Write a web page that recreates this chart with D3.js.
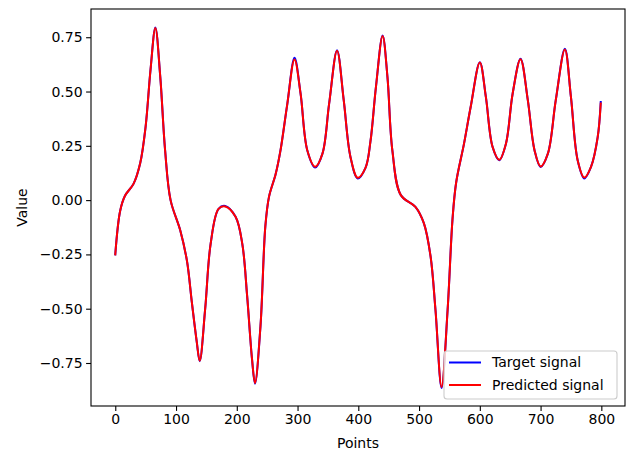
<!DOCTYPE html>
<html>
<head>
<meta charset="utf-8">
<script src="https://cdn.jsdelivr.net/npm/d3@7"></script>
<style>
  body { margin: 0; background: #fff; }
  text { font-family: "DejaVu Sans", sans-serif; }
</style>
</head>
<body>
<script>
// sample positions (point index)
var pointIndex = [0, 8, 16, 30, 41, 50, 58, 66, 74, 82, 91, 107, 118, 126, 134, 139,
  148, 157, 170, 181, 198, 209, 217, 225, 230, 239, 247, 253, 264, 272, 283, 295,
  305, 316, 329, 341, 352, 365, 376, 387, 399, 412, 420, 429, 440, 448, 456, 470,
  494, 508, 519, 527, 537, 547, 555, 561, 574, 585, 600, 610, 621, 632, 643, 654,
  667, 679, 690, 700, 712, 725, 740, 750, 761, 772, 783, 794, 799];

var targetSignal = [-0.25, -0.05, 0.02, 0.075, 0.17, 0.34, 0.60, 0.795, 0.57, 0.23, 0.0, -0.14, -0.28, -0.47, -0.65, -0.742,
  -0.50, -0.20, -0.04, -0.027, -0.077, -0.20, -0.44, -0.73, -0.845, -0.58, -0.12, 0.015, 0.12, 0.23, 0.44, 0.655,
  0.49, 0.23, 0.15, 0.214, 0.444, 0.69, 0.46, 0.20, 0.10, 0.15, 0.27, 0.52, 0.758, 0.566, 0.23, 0.023,
  -0.031, -0.107, -0.26, -0.505, -0.865, -0.505, -0.09, 0.08, 0.26, 0.43, 0.635, 0.474, 0.245, 0.184, 0.26, 0.49,
  0.651, 0.46, 0.23, 0.153, 0.214, 0.46, 0.697, 0.474, 0.184, 0.10, 0.153, 0.29, 0.452];

var predictedSignal = [-0.25, -0.05, 0.02, 0.075, 0.17, 0.34, 0.60, 0.793, 0.57, 0.23, 0.0, -0.14, -0.28, -0.47, -0.65, -0.74,
  -0.50, -0.20, -0.04, -0.029, -0.077, -0.20, -0.44, -0.73, -0.842, -0.58, -0.12, 0.015, 0.12, 0.23, 0.44, 0.648,
  0.49, 0.23, 0.154, 0.214, 0.444, 0.688, 0.46, 0.20, 0.103, 0.15, 0.27, 0.52, 0.756, 0.566, 0.23, 0.023,
  -0.031, -0.107, -0.26, -0.505, -0.86, -0.505, -0.09, 0.08, 0.26, 0.43, 0.634, 0.474, 0.245, 0.186, 0.26, 0.49,
  0.649, 0.46, 0.23, 0.155, 0.214, 0.46, 0.694, 0.474, 0.184, 0.104, 0.153, 0.29, 0.445];

var xTicks = [0, 100, 200, 300, 400, 500, 600, 700, 800];
var yTicks = [-0.75, -0.5, -0.25, 0, 0.25, 0.5, 0.75];
var seriesNames = ["Target signal", "Predicted signal"];
var seriesColors = ["#0000ff", "#ff0000"];

var svgWidth = 626, svgHeight = 450;
var plotLeft = 91, plotRight = 625, plotTop = 9, plotBottom = 406;

var svg = d3.select("body").append("svg")
  .attr("width", svgWidth)
  .attr("height", svgHeight);

var xScale = d3.scaleLinear().domain([-39.95, 838.95]).range([plotLeft, plotRight]);
var yScale = d3.scaleLinear().domain([-0.948, 0.880]).range([plotBottom, plotTop]);

// lines
var line = d3.line()
  .x(function(d) { return xScale(d[0]); })
  .y(function(d) { return yScale(d[1]); })
  .curve(d3.curveCatmullRom.alpha(0.5));

[targetSignal, predictedSignal].forEach(function(vals, k) {
  var pts = pointIndex.map(function(p, i) { return [p, vals[i]]; });
  svg.append("path")
    .datum(pts)
    .attr("d", line)
    .attr("fill", "none")
    .attr("stroke", seriesColors[k])
    .attr("stroke-width", 2)
    .attr("stroke-linejoin", "round")
    .attr("stroke-linecap", "square");
});

// axes
var fmtY = function(d) { return d3.format(".2f")(d).replace("-", "\u2212"); };

var xAxis = svg.append("g")
  .attr("transform", "translate(0," + plotBottom + ")")
  .call(d3.axisBottom(xScale).tickValues(xTicks).tickSize(4.9).tickPadding(3.5).tickSizeOuter(0));

var yAxis = svg.append("g")
  .attr("transform", "translate(" + plotLeft + ",0)")
  .call(d3.axisLeft(yScale).tickValues(yTicks).tickFormat(fmtY).tickSize(4.9).tickPadding(3.5).tickSizeOuter(0));

[xAxis, yAxis].forEach(function(g) {
  g.select(".domain").remove();
  g.selectAll(".tick line").attr("stroke", "#000").attr("stroke-width", 1.1);
  g.selectAll(".tick text").attr("fill", "#000").style("font-size", "14px").style("font-family", "DejaVu Sans");
});

// frame
svg.append("rect")
  .attr("x", plotLeft).attr("y", plotTop)
  .attr("width", plotRight - plotLeft).attr("height", plotBottom - plotTop)
  .attr("fill", "none")
  .attr("stroke", "#000")
  .attr("stroke-width", 1.1);

// axis labels
svg.append("text")
  .attr("x", (plotLeft + plotRight) / 2).attr("y", 448)
  .attr("text-anchor", "middle")
  .style("font-size", "14px")
  .text("Points");

svg.append("text")
  .attr("transform", "translate(27," + (plotTop + plotBottom) / 2 + ") rotate(-90)")
  .attr("text-anchor", "middle")
  .style("font-size", "14px")
  .text("Value");

// legend
var legend = svg.append("g");
legend.append("rect")
  .attr("x", 444).attr("y", 351)
  .attr("width", 173).attr("height", 48)
  .attr("rx", 3)
  .attr("fill", "#fff").attr("fill-opacity", 0.8)
  .attr("stroke", "#cccccc").attr("stroke-width", 1.1);

seriesNames.forEach(function(name, i) {
  var yy = 362.5 + i * 22.5;
  legend.append("line")
    .attr("x1", 449).attr("x2", 481)
    .attr("y1", yy).attr("y2", yy)
    .attr("stroke", seriesColors[i]).attr("stroke-width", 2);
  legend.append("text")
    .attr("x", 492).attr("y", yy)
    .attr("dy", "0.35em")
    .style("font-size", "14px")
    .text(name);
});
</script>
</body>
</html>
